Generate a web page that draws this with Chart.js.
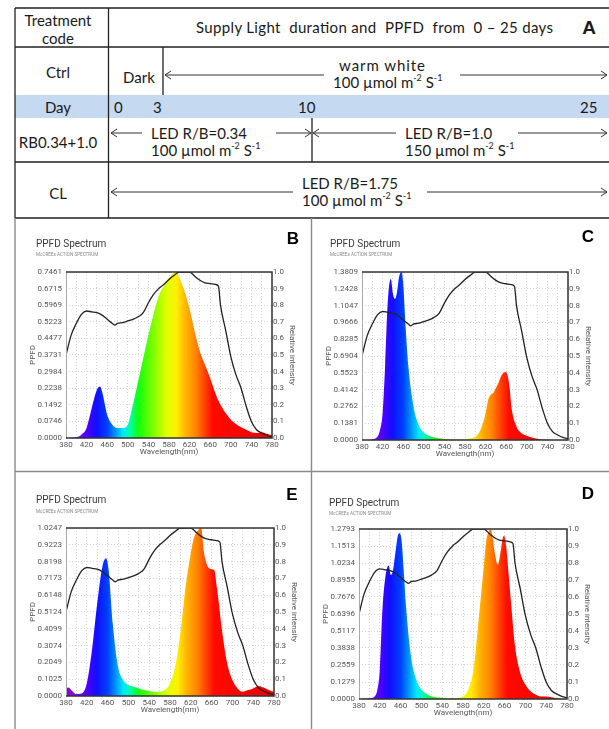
<!DOCTYPE html>
<html>
<head>
<meta charset="utf-8">
<script src="https://cdn.jsdelivr.net/npm/chart.js@4.4.1/dist/chart.umd.min.js"></script>
<style>
  html, body { margin: 0; padding: 0; background: #fff; }
  body { width: 609px; height: 729px; position: relative; overflow: hidden; }
  svg { position: absolute; left: 0; top: 0; }
  canvas { position: absolute; }
</style>
</head>
<body>
<svg width="609" height="729" font-family="Lato, sans-serif" font-size="15" fill="#1a1a1a">
  <rect x="15" y="95" width="594" height="23" fill="#c5d9f1"/>
  <path d="M15 8H609 M15 47H609 M15 162H609 M15 218H609 M15 8V218 M108.5 8V218 M163 47V95 M312 118V162"
        stroke="#222" stroke-width="1.3" fill="none"/>
  <path d="M15 218V729 M311.5 218V729 M15 471.5H609" stroke="#8a8a8a" stroke-width="1.4" fill="none"/>
  <g stroke="#333" stroke-width="1" fill="none">
    <path d="M165 75H324 M171 71L165 75L171 79"/>
    <path d="M460 75H607 M601 71L607 75L601 79"/>
    <path d="M111 133H142 M117 129L111 133L117 137"/>
    <path d="M276 133H311 M305 129L311 133L305 137"/>
    <path d="M313 133H396 M319 129L313 133L319 137"/>
    <path d="M518 133H607 M601 129L607 133L601 137"/>
    <path d="M111 192H293 M117 188L111 192L117 196"/>
    <path d="M427 192H607 M601 188L607 192L601 196"/>
  </g>
  <g dominant-baseline="central">
    <text x="58" y="20" text-anchor="middle">Treatment</text>
    <text x="58" y="38" text-anchor="middle">code</text>
    <text x="196" y="27" xml:space="preserve" textLength="357">Supply Light  duration and  PPFD  from  0 – 25 days</text>
    <text x="589" y="27" text-anchor="middle" font-family="Liberation Sans, Arial" font-weight="bold" font-size="19">A</text>
    <text x="58" y="72" text-anchor="middle">Ctrl</text>
    <text x="123" y="77">Dark</text>
    <text x="339" y="65" textLength="86">warm white</text>
    <text x="333" y="82">100 µmol m<tspan dy="-5" font-size="9">-2</tspan><tspan dy="5"> S</tspan><tspan dy="-5" font-size="9">-1</tspan></text>
    <text x="58" y="107" text-anchor="middle">Day</text>
    <text x="114" y="107">0</text>
    <text x="153" y="107">3</text>
    <text x="298" y="107">10</text>
    <text x="580" y="107">25</text>
    <text x="58" y="142" text-anchor="middle">RB0.34+1.0</text>
    <text x="151" y="133">LED R/B=0.34</text>
    <text x="151" y="150">100 µmol m<tspan dy="-5" font-size="9">-2</tspan><tspan dy="5"> S</tspan><tspan dy="-5" font-size="9">-1</tspan></text>
    <text x="405" y="133">LED R/B=1.0</text>
    <text x="405" y="150">150 µmol m<tspan dy="-5" font-size="9">-2</tspan><tspan dy="5"> S</tspan><tspan dy="-5" font-size="9">-1</tspan></text>
    <text x="58" y="193" text-anchor="middle">CL</text>
    <text x="302" y="183">LED R/B=1.75</text>
    <text x="302" y="200">100 µmol m<tspan dy="-5" font-size="9">-2</tspan><tspan dy="5"> S</tspan><tspan dy="-5" font-size="9">-1</tspan></text>
  </g>
</svg>
<canvas id="chart-B"></canvas>
<canvas id="chart-C"></canvas>
<canvas id="chart-E"></canvas>
<canvas id="chart-D"></canvas>
<script>
// McCree action spectrum (relative, right axis) - same curve on every panel
const mccreeNm = [380, 390, 400, 410, 420, 430, 440, 450, 460, 470, 475, 480, 490, 500, 510, 520, 530, 540, 550, 560, 570, 580, 590, 600, 610, 620, 625, 630, 640, 650, 660, 670, 676, 680, 690, 700, 710, 720, 730, 740, 750, 760, 770, 780];
const mccreeRel = [0.5, 0.62, 0.69, 0.745, 0.765, 0.76, 0.755, 0.74, 0.715, 0.69, 0.68, 0.69, 0.695, 0.705, 0.715, 0.73, 0.755, 0.815, 0.865, 0.9, 0.925, 0.955, 0.98, 1.0, 1.0, 1.0, 0.99, 0.975, 0.95, 0.935, 0.93, 0.925, 0.915, 0.8, 0.65, 0.49, 0.38, 0.3, 0.19, 0.1, 0.05, 0.03, 0.015, 0.008];

// B - warm white
const nmB = [380, 390, 400, 410, 420, 430, 440, 446, 450, 460, 470, 480, 490, 500, 510, 520, 530, 540, 550, 560, 570, 580, 590, 595, 600, 610, 620, 630, 640, 650, 660, 670, 680, 690, 700, 710, 720, 730, 740, 750, 760, 770, 780];
const ppfdB = [0, 0.0015, 0.0037, 0.0149, 0.0448, 0.1343, 0.2164, 0.2313, 0.2089, 0.1045, 0.0597, 0.0448, 0.0448, 0.0597, 0.1492, 0.2537, 0.3581, 0.4626, 0.5558, 0.6379, 0.6827, 0.72, 0.7424, 0.7461, 0.72, 0.6603, 0.5782, 0.4775, 0.388, 0.3283, 0.2686, 0.2014, 0.1492, 0.1119, 0.0821, 0.0634, 0.0485, 0.0373, 0.0261, 0.0224, 0.0261, 0.0187, 0.0112];
const yTicksB = ['0.0000', '0.0746', '0.1492', '0.2238', '0.2984', '0.3731', '0.4477', '0.5223', '0.5969', '0.6715', '0.7461'];

// C - LED R/B = 0.34
const nmC = [380, 390, 400, 410, 415, 420, 425, 430, 436, 440, 444, 448, 452, 457, 460, 465, 470, 480, 490, 500, 510, 520, 530, 540, 560, 580, 590, 600, 610, 620, 625, 630, 635, 640, 645, 650, 655, 659, 663, 667, 670, 680, 690, 700, 710, 720, 730, 780];
const ppfdC = [0, 0, 0.0069, 0.0276, 0.0829, 0.2209, 0.6214, 1.1323, 1.3229, 1.2014, 1.16, 1.2152, 1.3395, 1.3809, 1.2842, 0.9114, 0.6076, 0.2762, 0.1243, 0.0621, 0.0345, 0.0207, 0.0138, 0.0083, 0.0041, 0.0069, 0.0138, 0.0276, 0.0829, 0.2209, 0.3314, 0.3728, 0.3867, 0.4281, 0.4695, 0.5247, 0.5524, 0.5593, 0.5247, 0.4143, 0.2762, 0.1105, 0.0552, 0.0345, 0.0207, 0.011, 0.0041, 0];
const yTicksC = ['0.0000', '0.1381', '0.2762', '0.4142', '0.5523', '0.6904', '0.8285', '0.9666', '1.1047', '1.2428', '1.3809'];

// E - LED R/B = 1.0
const nmE = [380, 385, 390, 395, 400, 410, 420, 430, 440, 450, 457, 462, 470, 480, 490, 500, 510, 520, 530, 540, 550, 560, 570, 580, 590, 600, 610, 620, 625, 630, 635, 640, 645, 650, 655, 660, 665, 670, 674, 680, 690, 700, 710, 720, 730, 740, 750, 760, 770, 780];
const ppfdE = [0.0461, 0.0512, 0.0359, 0.0205, 0.0123, 0.0154, 0.0769, 0.2818, 0.5636, 0.789, 0.8403, 0.7685, 0.4406, 0.1793, 0.0973, 0.0666, 0.0564, 0.0461, 0.0359, 0.0307, 0.0256, 0.0256, 0.0359, 0.0769, 0.1793, 0.3843, 0.6661, 0.871, 0.953, 0.994, 1.0145, 1.0247, 0.8812, 0.8095, 0.7788, 0.7737, 0.7685, 0.666, 0.5636, 0.3996, 0.1998, 0.0973, 0.0461, 0.0256, 0.0359, 0.0461, 0.0615, 0.0512, 0.0359, 0.0256];
const yTicksE = ['0.0000', '0.1025', '0.2049', '0.3074', '0.4099', '0.5124', '0.6148', '0.7173', '0.8198', '0.9223', '1.0247'];

// D - LED R/B = 1.75
const nmD = [380, 400, 410, 415, 420, 425, 430, 437, 441, 445, 450, 455, 458, 462, 466, 470, 480, 490, 500, 510, 520, 540, 560, 580, 590, 600, 610, 620, 625, 630, 633, 637, 641, 647, 652, 656, 659, 663, 667, 672, 680, 690, 700, 710, 720, 730, 740, 750, 760, 780];
const ppfdD = [0, 0.0064, 0.0192, 0.064, 0.2175, 0.6716, 0.8955, 1.0043, 0.9339, 0.9595, 1.1002, 1.2345, 1.2473, 1.1897, 0.9723, 0.7228, 0.3198, 0.1471, 0.0704, 0.0384, 0.0192, 0.0102, 0.0064, 0.0192, 0.0704, 0.2175, 0.5949, 0.9979, 1.1961, 1.2665, 1.2793, 1.2153, 1.1002, 1.0106, 1.1002, 1.2025, 1.2281, 1.1513, 0.9723, 0.742, 0.3966, 0.1983, 0.1087, 0.0576, 0.032, 0.0192, 0.0192, 0.0128, 0.0064, 0];
const yTicksD = ['0.0000', '0.1279', '0.2559', '0.3838', '0.5117', '0.6396', '0.7676', '0.8955', '1.0234', '1.1513', '1.2793'];

const wavelengthTicks = [380, 420, 460, 500, 540, 580, 620, 660, 700, 740, 780];
const relTicks = ['0.0', '0.1', '0.2', '0.3', '0.4', '0.5', '0.6', '0.7', '0.8', '0.9', '1.0'];

// rainbow fill colours along wavelength
const rainbow = [[380, '#9000d0'], [400, '#8000ff'], [420, '#5000ff'], [440, '#1010ff'], [460, '#0040ff'],
  [475, '#0090ff'], [490, '#00e8ff'], [505, '#00ffa0'], [520, '#10ff10'], [550, '#80ff00'], [575, '#e0ff00'],
  [595, '#ffee00'], [612, '#ffb400'], [632, '#ff8400'], [650, '#ff4000'], [665, '#ff0a00'], [780, '#ee0000']];

// canvas box and plot box in page pixels
const panels = [
  { letter: 'B', nm: nmB, ppfd: ppfdB, yTicks: yTicksB, canvas: [16, 219, 295, 252], plot: [66, 272, 272, 438],
    title: [36, 244], sub: [36, 254.5], mark: [293, 239] },
  { letter: 'C', nm: nmC, ppfd: ppfdC, yTicks: yTicksC, canvas: [312, 219, 297, 252], plot: [362, 272, 568, 440],
    title: [330, 244], sub: [330, 255], mark: [588, 237] },
  { letter: 'E', nm: nmE, ppfd: ppfdE, yTicks: yTicksE, canvas: [16, 473, 295, 256], plot: [66, 528, 274, 696],
    title: [36, 500], sub: [36, 512], mark: [292, 495] },
  { letter: 'D', nm: nmD, ppfd: ppfdD, yTicks: yTicksD, canvas: [312, 473, 297, 256], plot: [359, 529, 567, 699],
    title: [329, 503], sub: [329, 514], mark: [588, 494] },
];

const LEFT_W = 40, RIGHT_W = 28, BOTTOM_H = 22;
const tickFont = { family: 'Roboto', size: 8 };
const tickColor = '#555';

const panelText = {
  id: 'panelText',
  afterDatasetsDraw(chart) {
    const a = chart.chartArea, c = chart.ctx;
    c.save();
    c.strokeStyle = '#aaa';
    c.lineWidth = 1;
    c.beginPath(); c.moveTo(a.left + 0.5, a.top); c.lineTo(a.left + 0.5, a.bottom); c.stroke();
    c.strokeStyle = '#333';
    c.lineWidth = 1.5;
    c.beginPath();
    c.moveTo(a.left, a.top); c.lineTo(a.right, a.top); c.lineTo(a.right, a.bottom); c.lineTo(a.left, a.bottom);
    c.stroke();
    c.restore();
  },
  afterDraw(chart, args, opts) {
    const c = chart.ctx, ox = opts.origin[0], oy = opts.origin[1];
    c.save();
    c.textBaseline = 'middle';
    c.textAlign = 'left';
    c.fillStyle = '#3a3a3a';
    c.font = '10px Roboto';
    c.fillText('PPFD Spectrum', opts.title[0] - ox, opts.title[1] - oy);
    c.fillStyle = '#888';
    c.font = '4.6px Roboto';
    c.fillText('McCREEs ACTION SPECTRUM', opts.sub[0] - ox, opts.sub[1] - oy);
    c.fillStyle = '#000';
    c.textAlign = 'center';
    c.font = 'bold 17px "Liberation Sans"';
    c.fillText(opts.letter, opts.mark[0] - ox, opts.mark[1] - oy);
    c.restore();
  }
};

function makeChart(p) {
  const el = document.getElementById('chart-' + p.letter);
  const [cl, ct, cw, ch] = p.canvas;
  const [pl, pt, pr, pb] = p.plot;
  el.style.left = cl + 'px';
  el.style.top = ct + 'px';
  el.width = cw; el.height = ch;
  el.style.width = cw + 'px'; el.style.height = ch + 'px';

  new Chart(el, {
    type: 'line',
    data: {
      datasets: [
        {
          data: mccreeNm.map((x, i) => ({ x, y: mccreeRel[i] })),
          yAxisID: 'y1',
          borderColor: '#222',
          borderWidth: 1.3,
          pointRadius: 0,
          fill: false,
          cubicInterpolationMode: 'monotone',
          order: 0,
        },
        {
          data: p.nm.map((x, i) => ({ x, y: p.ppfd[i] })),
          yAxisID: 'y',
          borderWidth: 0,
          pointRadius: 0,
          fill: 'origin',
          cubicInterpolationMode: 'monotone',
          order: 1,
          backgroundColor(ctx) {
            const { chart } = ctx;
            if (!chart.chartArea) return 'red';
            const x0 = chart.scales.x.getPixelForValue(380), x1 = chart.scales.x.getPixelForValue(780);
            const g = chart.ctx.createLinearGradient(x0, 0, x1, 0);
            rainbow.forEach(([nm, col]) => g.addColorStop((nm - 380) / 400, col));
            return g;
          },
        },
      ],
    },
    options: {
      responsive: false,
      animation: false,
      devicePixelRatio: 1,
      layout: {
        padding: { left: pl - cl - LEFT_W, top: pt - ct, right: cl + cw - pr - RIGHT_W, bottom: ct + ch - pb - BOTTOM_H },
      },
      plugins: {
        legend: { display: false },
        tooltip: { enabled: false },
        panelText: { origin: [cl, ct], title: p.title, sub: p.sub, mark: p.mark, letter: p.letter },
      },
      scales: {
        x: {
          type: 'linear', min: 380, max: 780,
          ticks: {
            stepSize: 20, autoSkip: false, maxRotation: 0, padding: 2, font: tickFont, color: tickColor,
            callback: v => (wavelengthTicks.includes(v) ? String(v) : ''),
          },
          grid: { color: '#cccccc', lineWidth: 0.8, drawTicks: false },
          border: { display: false, dash: [1, 2] },
          title: { display: true, text: 'Wavelength(nm)', font: tickFont, color: tickColor, padding: { top: 0, bottom: 3 } },
          afterFit: s => { s.height = BOTTOM_H; },
        },
        y: {
          position: 'left', min: 0, max: parseFloat(p.yTicks[p.yTicks.length - 1]),
          afterBuildTicks: s => { s.ticks = p.yTicks.map(t => ({ value: parseFloat(t) })); },
          ticks: { padding: 4, font: tickFont, color: tickColor, callback: (v, i) => p.yTicks[i] },
          grid: { color: '#cccccc', lineWidth: 0.8, drawTicks: false },
          border: { display: false, dash: [1, 2] },
          title: { display: true, text: 'PPFD', font: tickFont, color: tickColor, padding: { top: 2, bottom: 0 } },
          afterFit: s => { s.width = LEFT_W; },
        },
        y1: {
          position: 'right', min: 0, max: 1,
          afterBuildTicks: s => { s.ticks = relTicks.map(t => ({ value: parseFloat(t) })); },
          ticks: { padding: 1, font: tickFont, color: tickColor, callback: (v, i) => relTicks[i] },
          grid: { display: false, drawTicks: false },
          border: { display: false },
          title: { display: true, text: 'Relative intensity', font: tickFont, color: tickColor, padding: { top: 3, bottom: 0 } },
          afterFit: s => { s.width = RIGHT_W; },
        },
      },
    },
    plugins: [panelText],
  });
}

panels.forEach(makeChart);
</script>
</body>
</html>
